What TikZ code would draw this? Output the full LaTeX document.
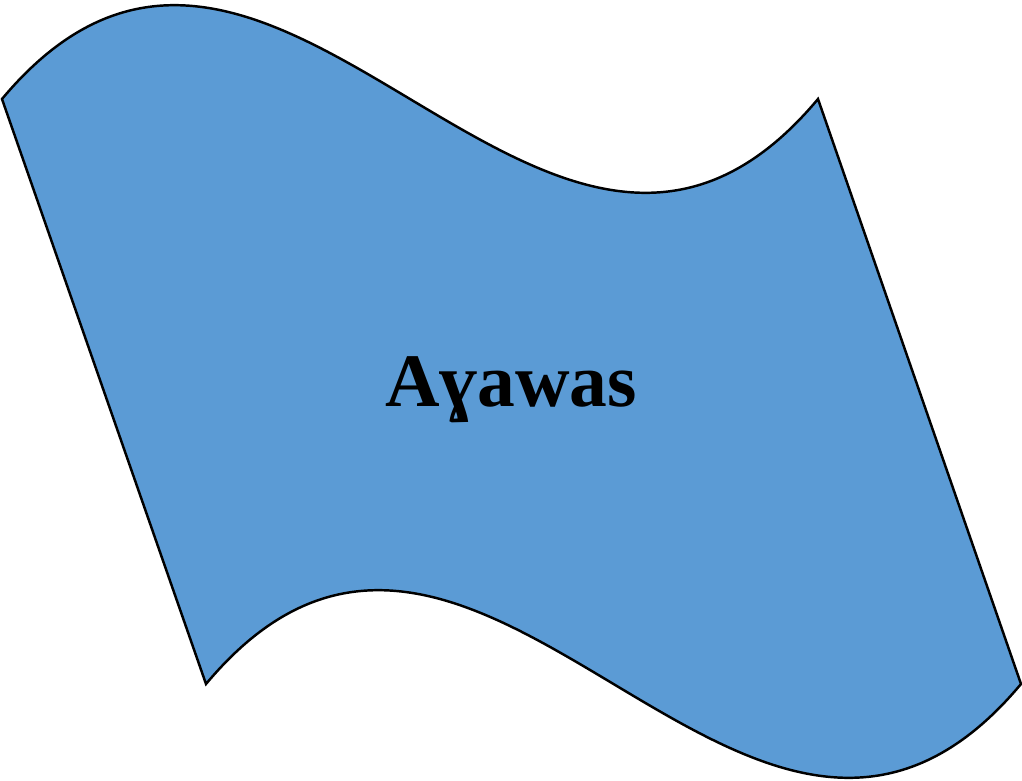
\documentclass[tikz,border=0pt]{standalone}
\usepackage{fontspec}
\setmainfont{Liberation Serif}
\definecolor{flagblue}{HTML}{5B9BD5}
\tikzset{flagshape/.style={draw=black, line width=1.4pt, fill=flagblue, line join=miter},
  flaglabel/.style={font=\bfseries\fontsize{43}{52}\selectfont, text=black}}
\begin{document}
\begin{tikzpicture}[x=0.02cm,y=-0.02cm]
\useasboundingbox (0,0) rectangle (1022,781);
\coordinate (tl) at (2,99);
\coordinate (tr) at (818,99);
\coordinate (br) at (1021,684);
\coordinate (bl) at (206,684);
\draw[flagshape] (tl) .. controls (274,-226) and (546,424) .. (tr)
  -- (br) .. controls (749,1009) and (478,359) .. (bl) -- cycle;
\node[flaglabel] (label) at (511,390) {Aɣawas};
\end{tikzpicture}
\end{document}
